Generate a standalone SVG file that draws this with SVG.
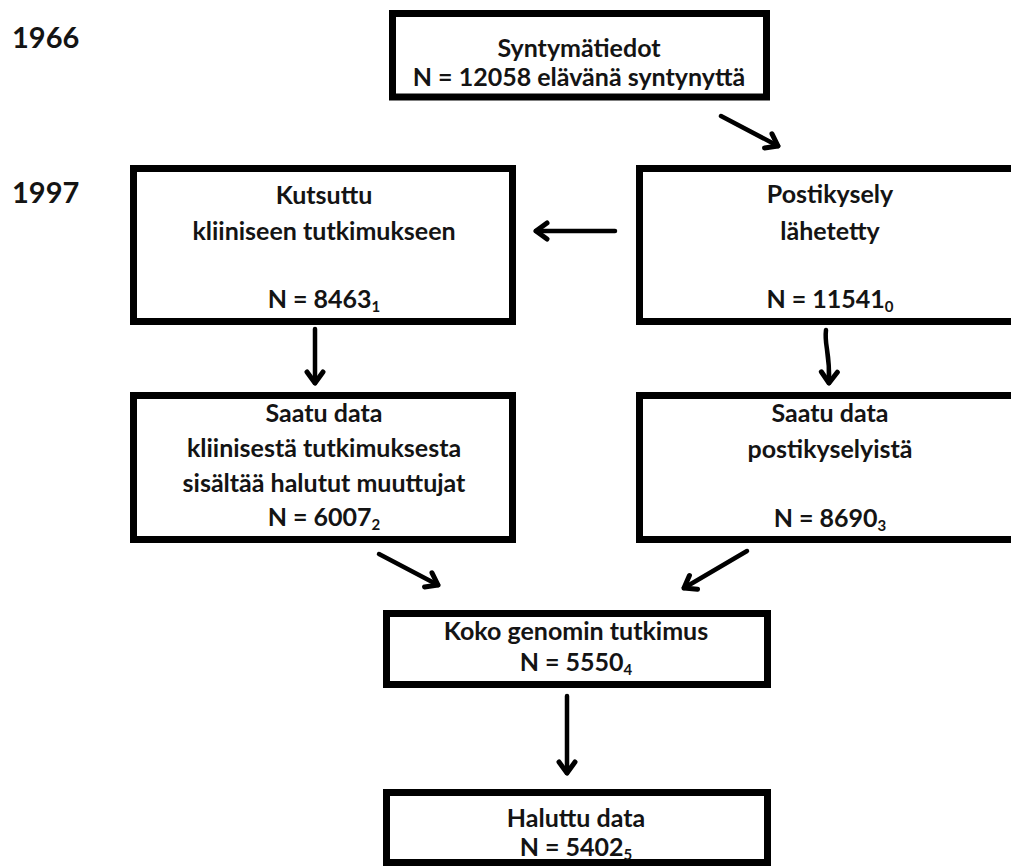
<svg xmlns="http://www.w3.org/2000/svg" width="1011" height="866" viewBox="0 0 1011 866">
<style>
  .box { fill: #fff; stroke: #000; stroke-width: 7; }
  .t { font-family: Lato, "Open Sans", "Liberation Sans", sans-serif; font-weight: bold; font-size: 25px; fill: #141414; text-anchor: middle; }
  .yr { font-family: Lato, "Open Sans", "Liberation Sans", sans-serif; font-weight: bold; font-size: 29px; fill: #141414; }
  .sub { font-size: 15px; }
  .arr { fill: none; stroke: #000; stroke-width: 4.5; stroke-linecap: round; marker-end: url(#ah); }
</style>
<defs>
  <marker id="ah" markerUnits="userSpaceOnUse" markerWidth="30" markerHeight="30" refX="14" refY="10" orient="auto" viewBox="0 0 30 20">
    <path d="M3,2 L14,10 L3,18" fill="none" stroke="#000" stroke-width="5" stroke-linecap="round" stroke-linejoin="round"/>
  </marker>
</defs>
<rect width="1011" height="866" fill="#fff"/>

<g id="year-1966"><text class="yr" x="12" y="48">1966</text></g>
<g id="year-1997"><text class="yr" x="12" y="203">1997</text></g>

<g id="syntymatiedot">
  <rect class="box" x="392.5" y="13.5" width="374" height="83.5"/>
  <text class="t" x="579" y="57">Syntymätiedot</text>
  <text class="t" x="579" y="86">N = 12058 elävänä syntynyttä</text>
</g>

<g id="kutsuttu">
  <rect class="box" x="133.5" y="168.5" width="379" height="153"/>
  <text class="t" x="324" y="204">Kutsuttu</text>
  <text class="t" x="324" y="240">kliiniseen tutkimukseen</text>
  <text class="t" x="324" y="308">N = 8463<tspan class="sub" dy="4">1</tspan></text>
</g>

<g id="postikysely">
  <rect class="box" x="639.5" y="168.5" width="400" height="153"/>
  <text class="t" x="830" y="203">Postikysely</text>
  <text class="t" x="830" y="240">lähetetty</text>
  <text class="t" x="830" y="308">N = 11541<tspan class="sub" dy="4">0</tspan></text>
</g>

<g id="saatu-kliininen">
  <rect class="box" x="133.5" y="395.5" width="379" height="144"/>
  <text class="t" x="324" y="422">Saatu data</text>
  <text class="t" x="324" y="457">kliinisestä tutkimuksesta</text>
  <text class="t" x="324" y="492">sisältää halutut muuttujat</text>
  <text class="t" x="324" y="526">N = 6007<tspan class="sub" dy="4">2</tspan></text>
</g>

<g id="saatu-posti">
  <rect class="box" x="639.5" y="395.5" width="400" height="144"/>
  <text class="t" x="830" y="422">Saatu data</text>
  <text class="t" x="830" y="458">postikyselyistä</text>
  <text class="t" x="830" y="527">N = 8690<tspan class="sub" dy="4">3</tspan></text>
</g>

<g id="koko-genomi">
  <rect class="box" x="386.5" y="613.5" width="381" height="71"/>
  <text class="t" x="576" y="640">Koko genomin tutkimus</text>
  <text class="t" x="576" y="671">N = 5550<tspan class="sub" dy="4">4</tspan></text>
</g>

<g id="haluttu">
  <rect class="box" x="386.5" y="792.5" width="381" height="70"/>
  <text class="t" x="576" y="827">Haluttu data</text>
  <text class="t" x="576" y="856">N = 5402<tspan class="sub" dy="4">5</tspan></text>
</g>

<g id="connectors">
  <path class="arr" d="M721,116 L778,146"/>
  <path class="arr" d="M615,231 L536,231"/>
  <path class="arr" d="M315,329 L315,383"/>
  <path class="arr" d="M826,330 C824,346 830,350 829,383"/>
  <path class="arr" d="M379,554 L438,585"/>
  <path class="arr" d="M747,551 L684,588"/>
  <path class="arr" d="M567,696 L567,773"/>
</g>
</svg>
